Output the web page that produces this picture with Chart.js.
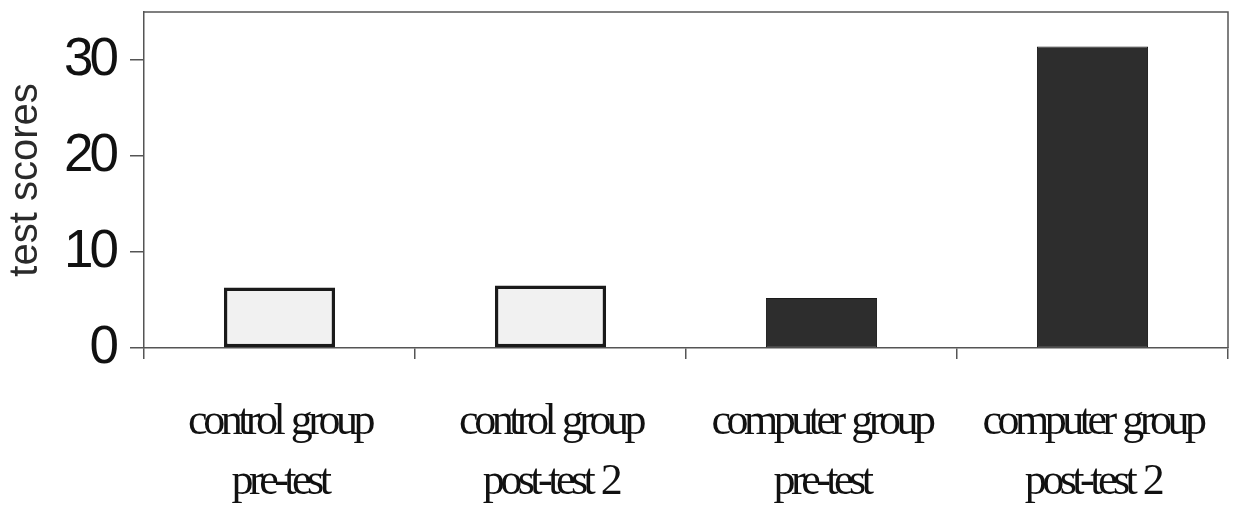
<!DOCTYPE html>
<html>
<head>
<meta charset="utf-8">
<script src="https://cdn.jsdelivr.net/npm/chart.js@4"></script>
<style>
  html, body { margin: 0; padding: 0; background: #fff; }
  #wrap { width: 1234px; height: 506px; }
</style>
</head>
<body>
<div id="wrap"><canvas id="myChart" width="1234" height="506"></canvas></div>
<script>
  // data
  var categories = [
    ["control group", "pre-test"],
    ["control group", "post-test 2"],
    ["computer group", "pre-test"],
    ["computer group", "post-test 2"]
  ];
  var scores = [6.3, 6.5, 5.2, 31.4];
  var yTicks = [0, 10, 20, 30];

  var lightFill = '#f1f1f1';
  var darkFill = '#2d2d2d';

  // squeeze the letters a bit, the original type is condensed
  function tighten(scale, spacing, words) {
    if (scale._tight) return;
    var orig = scale.drawLabels;
    scale.drawLabels = function (area) {
      var ctx = this.ctx;
      ctx.save();
      ctx.letterSpacing = spacing;
      ctx.wordSpacing = words;
      orig.call(this, area);
      ctx.restore();
    };
    scale._tight = true;
  }

  var framePlugin = {
    id: 'frame',
    afterLayout: function (chart) {
      tighten(chart.scales.x, '-4.5px', '3px');
      tighten(chart.scales.y, '-4px', '0px');
    },
    beforeDatasetsDraw: function (chart) {
      var a = chart.chartArea, ctx = chart.ctx;
      ctx.save();
      ctx.strokeStyle = '#555';
      ctx.lineWidth = 1.5;
      ctx.beginPath();
      ctx.moveTo(a.left, a.top);
      ctx.lineTo(a.right, a.top);
      ctx.lineTo(a.right, a.bottom);
      ctx.stroke();
      ctx.restore();
    }
  };

  var ctx = document.getElementById('myChart').getContext('2d');
  var myChart = new Chart(ctx, {
    type: 'bar',
    data: {
      labels: categories,
      datasets: [{
        data: scores,
        backgroundColor: [lightFill, lightFill, darkFill, darkFill],
        borderColor: '#1a1a1a',
        borderWidth: [3.5, 3.5, 1, 1],
        borderSkipped: false,
        barPercentage: 0.41,
        categoryPercentage: 1
      }]
    },
    options: {
      responsive: false,
      animation: false,
      layout: { padding: { top: 12, right: 6, left: 0, bottom: 0 } },
      plugins: {
        legend: { display: false },
        tooltip: { enabled: false }
      },
      scales: {
        x: {
          afterFit: function (s) {
            s.height = 158;
            s.paddingLeft = 0;
            s.paddingRight = 0;
          },
          grid: {
            offset: true,
            drawOnChartArea: false,
            tickLength: 11,
            color: '#555',
            lineWidth: 1.5
          },
          border: { color: '#555', width: 1.5 },
          ticks: {
            color: '#111',
            padding: 34,
            maxRotation: 0,
            autoSkip: false,
            font: { family: '"Liberation Serif", "Times New Roman", serif', size: 44, lineHeight: 1.36 }
          }
        },
        y: {
          min: 0,
          max: 35,
          afterFit: function (s) {
            s.width = 144;
            s.paddingTop = 0;
            s.paddingBottom = 0;
          },
          afterBuildTicks: function (s) {
            s.ticks = yTicks.map(function (v) { return { value: v }; });
          },
          grid: {
            drawOnChartArea: false,
            tickLength: 14,
            color: '#555',
            lineWidth: 1.5
          },
          border: { color: '#555', width: 1.5 },
          ticks: {
            color: '#111',
            padding: 15,
            font: { family: '"Liberation Sans", Arial, sans-serif', size: 53 }
          },
          title: {
            display: true,
            text: 'test scores',
            color: '#2a2a2a',
            padding: { top: 2, bottom: 0 },
            font: { family: '"Liberation Sans", Arial, sans-serif', size: 40, lineHeight: 1.2 }
          }
        }
      }
    },
    plugins: [framePlugin]
  });
</script>
</body>
</html>
